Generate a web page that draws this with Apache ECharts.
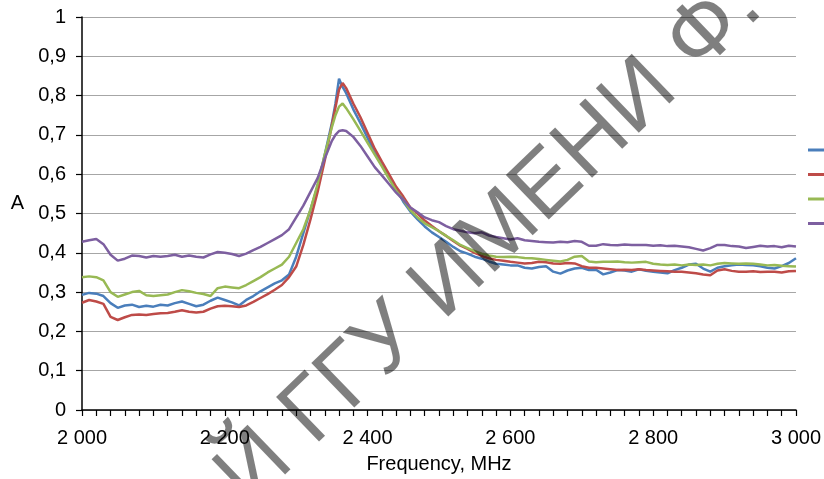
<!DOCTYPE html>
<html>
<head>
<meta charset="utf-8">
<script src="https://cdn.jsdelivr.net/npm/echarts@6/dist/echarts.min.js"></script>
<style>
html,body{margin:0;padding:0;background:#fff;}
#chart{width:824px;height:479px;}
</style>
</head>
<body>
<div id="chart"></div>
<script>
const freq = [
2000,2010,2020,2030,2040,2050,2060,2070,2080,2090,
2100,2110,2120,2130,2140,2150,2160,2170,2180,2190,
2200,2210,2220,2230,2240,2250,2260,2270,2280,2290,
2300,2310,2320,2330,2340,2350,2355,2360,2365,2370,
2380,2390,2400,2410,2420,2430,2440,2450,2460,2470,
2480,2490,2500,2510,2520,2530,2540,2550,2560,2570,
2580,2590,2600,2610,2620,2630,2640,2650,2660,2670,
2680,2690,2700,2710,2720,2730,2740,2750,2760,2770,
2780,2790,2800,2810,2820,2830,2840,2850,2860,2870,
2880,2890,2900,2910,2920,2930,2940,2950,2960,2970,
2980,2990,3000];

const seriesNames = ['1', '2', '3', '4'];

const blue = [
0.293,0.298,0.296,0.290,0.272,0.260,0.266,0.268,0.262,0.265,
0.263,0.268,0.266,0.272,0.276,0.270,0.264,0.268,0.278,0.286,
0.280,0.274,0.266,0.280,0.290,0.302,0.312,0.322,0.330,0.345,
0.390,0.450,0.510,0.570,0.650,0.730,0.780,0.843,0.822,0.806,
0.765,0.730,0.692,0.655,0.625,0.595,0.563,0.530,0.505,0.485,
0.467,0.452,0.440,0.428,0.415,0.404,0.398,0.390,0.385,0.378,
0.372,0.370,0.368,0.368,0.362,0.360,0.364,0.366,0.352,0.347,
0.355,0.360,0.362,0.356,0.357,0.345,0.350,0.356,0.355,0.352,
0.358,0.354,0.352,0.350,0.348,0.356,0.362,0.370,0.372,0.360,
0.352,0.362,0.366,0.368,0.370,0.369,0.368,0.366,0.362,0.360,
0.366,0.374,0.386];

const red = [
0.273,0.280,0.276,0.270,0.237,0.229,0.236,0.242,0.243,0.242,
0.244,0.246,0.247,0.250,0.254,0.250,0.248,0.250,0.258,0.264,
0.265,0.264,0.262,0.266,0.275,0.285,0.295,0.306,0.318,0.338,
0.365,0.420,0.485,0.555,0.635,0.725,0.770,0.815,0.832,0.819,
0.780,0.745,0.705,0.665,0.632,0.600,0.568,0.543,0.515,0.500,
0.482,0.468,0.455,0.443,0.430,0.418,0.410,0.400,0.392,0.386,
0.382,0.380,0.377,0.375,0.373,0.374,0.377,0.376,0.373,0.372,
0.374,0.373,0.366,0.362,0.362,0.360,0.358,0.356,0.357,0.356,
0.358,0.356,0.355,0.354,0.353,0.352,0.352,0.350,0.348,0.345,
0.343,0.355,0.358,0.354,0.352,0.352,0.353,0.351,0.352,0.352,
0.350,0.353,0.354];

const green = [
0.338,0.340,0.338,0.330,0.300,0.288,0.294,0.300,0.303,0.292,
0.290,0.292,0.294,0.300,0.305,0.302,0.298,0.295,0.290,0.310,
0.314,0.312,0.310,0.318,0.328,0.338,0.350,0.360,0.370,0.390,
0.425,0.460,0.510,0.575,0.650,0.720,0.750,0.772,0.780,0.768,
0.740,0.710,0.680,0.650,0.620,0.588,0.558,0.535,0.508,0.490,
0.475,0.465,0.455,0.443,0.432,0.420,0.412,0.404,0.398,0.393,
0.390,0.389,0.390,0.389,0.387,0.386,0.384,0.382,0.380,0.378,
0.382,0.390,0.392,0.378,0.376,0.377,0.377,0.378,0.376,0.375,
0.376,0.377,0.372,0.370,0.369,0.370,0.368,0.370,0.369,0.370,
0.368,0.372,0.374,0.373,0.372,0.373,0.372,0.370,0.368,0.369,
0.367,0.366,0.365];

const purple = [
0.428,0.432,0.435,0.422,0.395,0.380,0.385,0.393,0.392,0.388,
0.392,0.390,0.392,0.395,0.390,0.393,0.390,0.388,0.396,0.402,
0.400,0.397,0.392,0.398,0.407,0.415,0.425,0.435,0.445,0.460,
0.490,0.520,0.555,0.590,0.640,0.685,0.700,0.710,0.712,0.710,
0.695,0.672,0.645,0.618,0.597,0.575,0.553,0.535,0.515,0.503,
0.490,0.483,0.478,0.468,0.460,0.456,0.452,0.450,0.452,0.444,
0.440,0.437,0.434,0.437,0.432,0.430,0.428,0.427,0.426,0.428,
0.427,0.430,0.428,0.418,0.418,0.422,0.420,0.419,0.421,0.420,
0.420,0.420,0.418,0.419,0.417,0.418,0.416,0.414,0.410,0.406,
0.412,0.420,0.420,0.417,0.416,0.412,0.415,0.418,0.416,0.417,
0.414,0.418,0.416];

const colors = ['#4A7EBB', '#BE4B48', '#98B954', '#7D5FA0'];
const watermarkText = 'Й ГГУ ИМЕНИ Ф.';

const chart = echarts.init(document.getElementById('chart'), null, {renderer: 'canvas'});
const FONT = '"Liberation Sans", Arial, sans-serif';

function mk(name, vals, color) {
  return {
    name: name,
    type: 'line',
    data: freq.map((f, i) => [f, vals[i]]),
    showSymbol: false,
    symbol: 'none',
    lineStyle: {color: color, width: 2.5},
    itemStyle: {color: color},
    animation: false
  };
}

chart.setOption({
  animation: false,
  grid: {left: 82, right: 28, top: 17, bottom: 69, containLabel: false},
  legend: {
    orient: 'vertical',
    left: 803,
    top: 138,
    icon: 'rect',
    itemWidth: 18,
    itemHeight: 3,
    itemGap: 10.5,
    textStyle: {fontSize: 14, lineHeight: 14, fontFamily: FONT, color: '#000'},
    data: seriesNames
  },
  xAxis: {
    type: 'value',
    min: 2000,
    max: 3000,
    interval: 200,
    name: 'Frequency, MHz',
    nameLocation: 'middle',
    nameGap: 44,
    nameTextStyle: {fontSize: 20, fontFamily: FONT, color: '#000'},
    axisLine: {show: true, onZero: false, lineStyle: {color: '#000', width: 1.5}},
    axisTick: {show: true, length: 6, lineStyle: {color: '#000', width: 1.2}},
    minorTick: {show: true, splitNumber: 10, length: 6, lineStyle: {color: '#000', width: 1.2}},
    splitLine: {show: false},
    axisLabel: {
      fontSize: 20, fontFamily: FONT, color: '#000', margin: 18,
      formatter: v => String(v).replace(/\B(?=(\d{3})+(?!\d))/g, ' ')
    }
  },
  yAxis: {
    type: 'value',
    min: 0,
    max: 1,
    interval: 0.1,
    name: 'A',
    nameLocation: 'middle',
    nameRotate: 0,
    nameGap: 58,
    nameTextStyle: {fontSize: 20, lineHeight: 20, fontFamily: FONT, color: '#000', verticalAlign: 'bottom'},
    axisLine: {show: true, lineStyle: {color: '#000', width: 1.5}},
    axisTick: {show: true, length: 6, lineStyle: {color: '#000', width: 1.2}},
    splitLine: {show: true, lineStyle: {color: '#A6A6A6', width: 1.2}},
    axisLabel: {
      fontSize: 20, fontFamily: FONT, color: '#000', margin: 16,
      formatter: v => String(+v.toFixed(1)).replace('.', ',')
    }
  },
  series: [
    mk(seriesNames[0], blue, colors[0]),
    mk(seriesNames[1], red, colors[1]),
    mk(seriesNames[2], green, colors[2]),
    mk(seriesNames[3], purple, colors[3])
  ],
  graphic: [{
    type: 'text',
    z: 100,
    x: 490,
    y: 242,
    rotation: 44 * Math.PI / 180,
    style: {
      text: watermarkText,
      fontSize: 90,
      fontFamily: FONT,
      fill: 'rgba(0,0,0,0.5)',
      align: 'center',
      verticalAlign: 'middle'
    }
  }]
});
</script>
</body>
</html>
